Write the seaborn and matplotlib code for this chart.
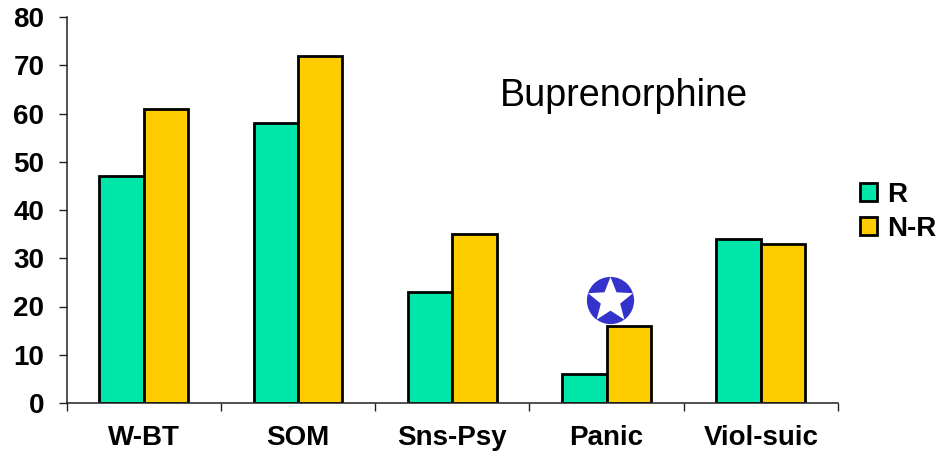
import numpy as np
import pandas as pd
import matplotlib
matplotlib.use('Agg')
import matplotlib.pyplot as plt
from matplotlib.path import Path
import seaborn as sns

groups = ['W-BT', 'SOM', 'Sns-Psy', 'Panic', 'Viol-suic']
r_vals = [47, 58, 23, 6, 34]
nr_vals = [61, 72, 35, 16, 33]
star_group = 'Panic'
star_value = 21.4

df = pd.DataFrame({'group': groups * 2,
                   'value': r_vals + nr_vals,
                   'type': ['R'] * 5 + ['N-R'] * 5})

sns.set_style('white')
plt.rcParams['font.family'] = ['Liberation Sans', 'DejaVu Sans']
plt.rcParams['text.color'] = 'black'
plt.rcParams['xtick.labelcolor'] = 'black'
plt.rcParams['ytick.labelcolor'] = 'black'

fig = plt.figure(figsize=(9.39, 4.55), dpi=100)
ax = fig.add_axes([66.5 / 939, 1 - 403 / 455, (838 - 66.5) / 939, (403 - 17) / 455])

sns.barplot(data=df, x='group', y='value', hue='type', order=groups,
            palette={'R': '#00E5A8', 'N-R': '#FFCC00'},
            edgecolor='black', linewidth=2, width=0.575, gap=0, saturation=1, ax=ax)

ax.set_xlim(-0.5, 4.5)
ax.set_ylim(0, 80)
ax.set_yticks(range(0, 90, 10))
ax.set_xlabel('')
ax.set_ylabel('')
sns.despine(ax=ax)
for s in ['left', 'bottom']:
    ax.spines[s].set_linewidth(1.1)
    ax.spines[s].set_color('#222222')

ax.tick_params(axis='y', length=6, width=1.0, color='#222222', left=True, pad=10)
ax.tick_params(axis='x', length=0, pad=16)
# group separator ticks sit between the categories
ax.set_xticks(np.arange(-0.5, 5, 1), minor=True)
ax.tick_params(axis='x', which='minor', length=6, width=1.0, color='#222222', bottom=True)
for t in ax.get_yticklabels():
    t.set_fontsize(20)
    t.set_fontweight('bold')
for t in ax.get_xticklabels():
    t.set_fontsize(20)
    t.set_fontweight('bold')

ax.text(0.722, 0.795, 'Buprenorphine', transform=ax.transAxes, fontsize=27.2,
        ha='center', va='center', color='black')

# star badge above Panic N-R bar
x_star = groups.index(star_group) + 0.02
fat_star = Path.unit_regular_star(5, innerCircle=0.43)
ax.plot([x_star], [star_value], marker='o', ms=34, mfc='#3333CC', mec='#3333CC', mew=0, clip_on=False)
ax.plot([x_star], [star_value], marker=fat_star, ms=34, mfc='white', mec='white', mew=0, clip_on=False)

h, l = ax.get_legend_handles_labels()
leg = ax.legend(h, l, loc='center left', bbox_to_anchor=(1.0285, 0.495), frameon=False,
                prop={'size': 20, 'weight': 'bold'}, handlelength=0.62, handleheight=0.62,
                handletextpad=0.35, labelspacing=0.3, borderpad=0, borderaxespad=0)
for p in leg.get_patches():
    p.set_linewidth(2)
    p.set_edgecolor('black')

fig.savefig('out.png', dpi=100)
